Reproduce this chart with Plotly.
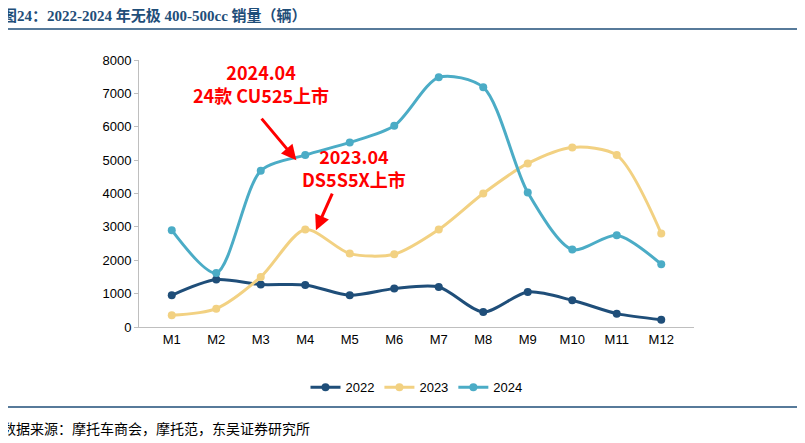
import plotly.graph_objects as go

months = ["M1", "M2", "M3", "M4", "M5", "M6", "M7", "M8", "M9", "M10", "M11", "M12"]
sales_2022 = [950, 1420, 1270, 1260, 950, 1150, 1200, 450, 1050, 800, 400, 220]
sales_2023 = [350, 550, 1500, 2920, 2200, 2180, 2920, 4000, 4900, 5380, 5150, 2800]
sales_2024 = [2900, 1620, 4680, 5150, 5530, 6030, 7480, 7180, 4030, 2320, 2750, 1880]

fig = go.Figure()
for name, vals, col in [("2022", sales_2022, "#1F4E79"),
                        ("2023", sales_2023, "#F2D182"),
                        ("2024", sales_2024, "#4BACC6")]:
    fig.add_trace(go.Scatter(x=months, y=vals, name=name, mode="lines+markers",
                             line=dict(color=col, width=3, shape="spline", smoothing=0.8),
                             marker=dict(color=col, size=8)))

red = "#FF0000"
note_font = dict(color=red, size=18, family="Noto Sans CJK SC")
# text labels
fig.add_annotation(x=2.0, y=7290, showarrow=False, text="<b>2024.04<br>24款 CU525上市</b>",
                   font=note_font)
fig.add_annotation(x=4.1, y=4770, showarrow=False, text="<b>2023.04<br>DS5S5X上市</b>",
                   font=note_font)
# arrows
fig.add_annotation(x=2.8, y=5000, ax=-36, ay=-43, text="", showarrow=True, arrowhead=2,
                   arrowwidth=3, arrowcolor=red)
fig.add_annotation(x=3.24, y=2900, ax=17, ay=-38, text="", showarrow=True, arrowhead=2,
                   arrowwidth=3, arrowcolor=red)

fig.add_annotation(xref="paper", yref="paper", x=-0.25, y=1.165, xanchor="left", yanchor="middle",
                   showarrow=False, text="<b>图24：2022-2024 年无极 400-500cc 销量（辆）</b>",
                   font=dict(color="#1F4E79", size=15, family="Liberation Serif, Noto Sans CJK SC"))
fig.add_annotation(xref="paper", yref="paper", x=-0.25, y=-0.378, xanchor="left", yanchor="middle",
                   showarrow=False, text="数据来源：摩托车商会，摩托范，东吴证券研究所",
                   font=dict(color="#000000", size=14, family="Noto Sans CJK SC"))
fig.add_shape(type="line", xref="paper", yref="paper", x0=-0.25, x1=1.187, y0=1.116, y1=1.116,
              line=dict(color="#1F4E79", width=1.5))
fig.add_shape(type="line", xref="paper", yref="paper", x0=-0.25, x1=1.187, y0=-0.30, y1=-0.30,
              line=dict(color="#1F4E79", width=1.5))

fig.update_layout(
    width=805, height=443, margin=dict(l=131, r=119, t=52, b=124),
    plot_bgcolor="white", paper_bgcolor="white",
    font=dict(family="Liberation Sans, Arial", size=13, color="#000000"),
    legend=dict(orientation="h", x=0.5, xanchor="center", y=-0.17, yanchor="top",
                font=dict(size=13)),
    xaxis=dict(showline=True, linecolor="#BFBFBF", ticks="", showgrid=False),
    yaxis=dict(range=[0, 8000], dtick=1000, showline=True, linecolor="#BFBFBF",
               ticks="outside", ticklen=4, tickcolor="#BFBFBF", showgrid=False),
)
fig.write_html("out.html")
